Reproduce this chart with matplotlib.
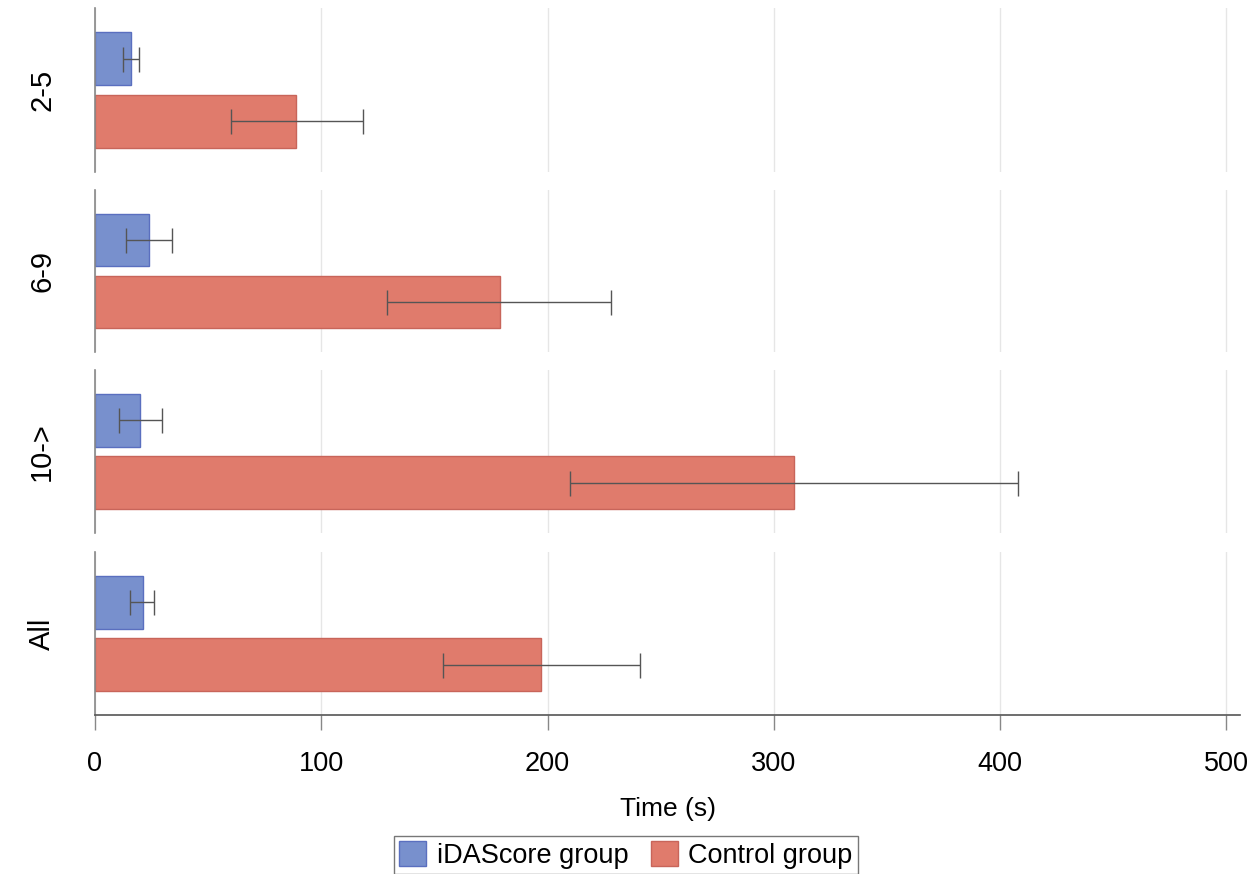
import matplotlib.pyplot as plt
import numpy as np

plt.rcParams['font.family'] = ['Liberation Sans', 'DejaVu Sans']

# values (seconds)
groups = ['2-5', '6-9', '10->', 'All']
idascore_mean = [16, 24, 20, 21]
idascore_lo = [12.5, 13.5, 10.5, 15.5]
idascore_hi = [19.5, 34, 29.5, 26]
control_mean = [89, 179, 309, 197]
control_lo = [60, 129, 210, 154]
control_hi = [118.5, 228, 408, 241]
xticks = [0, 100, 200, 300, 400, 500]

blue = '#7890CD'
blue_edge = '#5A6FBF'
red = '#E07B6C'
red_edge = '#C8655A'

fig = plt.figure(figsize=(12.52, 8.74), dpi=100)
W, H = 1252, 874
left, right = 95, 1240
tops = [8, 190, 370, 552]
bottoms = [172, 352, 533, 715]

for i, g in enumerate(groups):
    ax = fig.add_axes([left / W, 1 - bottoms[i] / H, (right - left) / W, (bottoms[i] - tops[i]) / H])
    bm, cm = idascore_mean[i], control_mean[i]
    ax.barh(0.692, bm, height=0.323, color=blue, edgecolor=blue_edge, linewidth=1)
    ax.barh(0.308, cm, height=0.323, color=red, edgecolor=red_edge, linewidth=1)
    ax.errorbar(bm, 0.692, xerr=[[bm - idascore_lo[i]], [idascore_hi[i] - bm]],
                fmt='none', ecolor='#555555', elinewidth=1, capsize=9, capthick=1)
    ax.errorbar(cm, 0.308, xerr=[[cm - control_lo[i]], [control_hi[i] - cm]],
                fmt='none', ecolor='#555555', elinewidth=1, capsize=9, capthick=1)
    ax.set_ylim(0, 1)
    ax.set_xlim(0, 506)
    ax.set_xticks(xticks)
    ax.set_yticks([])
    ax.grid(axis='x', color='#e6e6e6', linewidth=1)
    ax.set_axisbelow(True)
    for s in ['top', 'right']:
        ax.spines[s].set_visible(False)
    ax.spines['left'].set_color('#888888')
    ax.spines['left'].set_linewidth(1.2)
    ax.set_ylabel(g, fontsize=21, labelpad=28)
    if i < len(groups) - 1:
        ax.spines['bottom'].set_visible(False)
        ax.tick_params(bottom=False, labelbottom=False)
    else:
        ax.spines['bottom'].set_color('#555555')
        ax.spines['bottom'].set_linewidth(1.2)
        ax.tick_params(axis='x', length=11, width=1, color='#888888', pad=15, labelsize=19.5)
        ax.set_xlabel('Time (s)', fontsize=19, labelpad=14)

handles = [plt.Rectangle((0, 0), 1, 1, facecolor=blue, edgecolor=blue_edge),
           plt.Rectangle((0, 0), 1, 1, facecolor=red, edgecolor=red_edge)]
leg = fig.legend(handles, ['iDAScore group', 'Control group'], loc='upper center',
                 bbox_to_anchor=(0.5, 1 - 836 / H), ncol=2, fontsize=19.5, frameon=True,
                 fancybox=False, edgecolor='#555555', handlelength=1.0, handleheight=1.0,
                 columnspacing=0.8, handletextpad=0.4, borderpad=0.2, borderaxespad=0)
leg.get_frame().set_linewidth(1)

fig.savefig('out.png', dpi=100)
